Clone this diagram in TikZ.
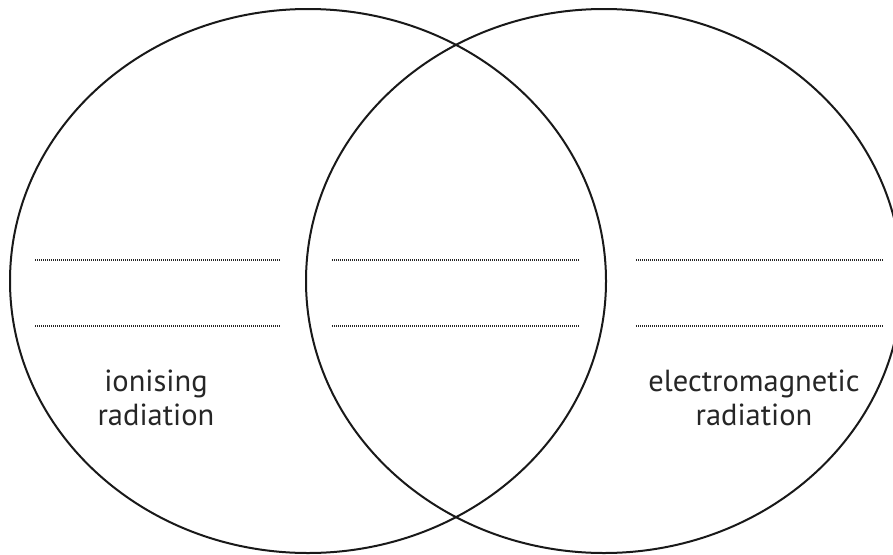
\documentclass[tikz,border=0pt]{standalone}
\usepackage{fontspec}
\setmainfont{PT Sans}
\begin{document}
\begin{tikzpicture}[x=1pt,y=-1pt,
  ring/.style={draw=black!90,line width=2pt},
  writeline/.style={draw=black!85,line width=1.3pt,dash pattern=on 1pt off 1pt},
  lbl/.style={align=center,font=\fontsize{30.5}{34}\selectfont,text=black!85,inner sep=0pt}]
\useasboundingbox (0,0) rectangle (893,554);
\clip (0,0) rectangle (893,554);
\draw[ring] (308,281) ellipse [x radius=298, y radius=272];
\draw[ring] (604,281) ellipse [x radius=298, y radius=272];
% write-on lines
\coordinate (l1a) at (35,260); \coordinate (l1b) at (280,260);
\coordinate (l2a) at (35,326); \coordinate (l2b) at (280,326);
\coordinate (m1a) at (332,260); \coordinate (m1b) at (580,260);
\coordinate (m2a) at (332,326); \coordinate (m2b) at (580,326);
\coordinate (r1a) at (636,260); \coordinate (r1b) at (884,260);
\coordinate (r2a) at (636,326); \coordinate (r2b) at (884,326);
\draw[writeline] (l1a) -- (l1b);
\draw[writeline] (l2a) -- (l2b);
\draw[writeline] (m1a) -- (m1b);
\draw[writeline] (m2a) -- (m2b);
\draw[writeline] (r1a) -- (r1b);
\draw[writeline] (r2a) -- (r2b);
\node[lbl] (ion) at (156,398) {ionising\\radiation};
\node[lbl] (em) at (754,398) {electromagnetic\\radiation};
\end{tikzpicture}
\end{document}
